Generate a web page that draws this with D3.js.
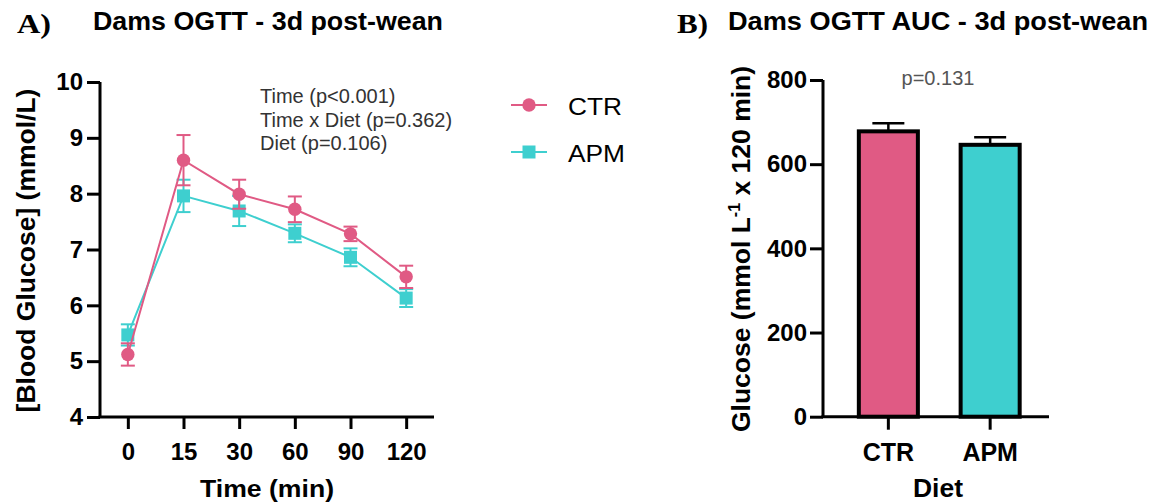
<!DOCTYPE html>
<html>
<head>
<meta charset="utf-8">
<script src="https://cdn.jsdelivr.net/npm/d3@7"></script>
<style>
  html, body { margin: 0; padding: 0; background: #fff; }
  svg { display: block; font-family: "Liberation Sans", Arial, Helvetica, sans-serif; }
</style>
</head>
<body>
<svg id="chart" width="1154" height="504"></svg>
<script>
// panel A: OGTT time course
const times = ["0", "15", "30", "60", "90", "120"];
const ctrMean = [5.12, 8.6, 7.99, 7.72, 7.28, 6.51];
const ctrSem = [0.2, 0.45, 0.26, 0.23, 0.13, 0.2];
const apmMean = [5.47, 7.96, 7.69, 7.29, 6.86, 6.13];
const apmSem = [0.19, 0.29, 0.27, 0.16, 0.16, 0.16];
const yTicksA = [4, 5, 6, 7, 8, 9, 10];
const statsLines = ["Time (p<0.001)", "Time x Diet (p=0.362)", "Diet (p=0.106)"];

// panel B: AUC
const diets = ["CTR", "APM"];
const aucMean = [678, 646];
const aucSem = [19, 18];
const yTicksB = [0, 200, 400, 600, 800];

const pink = "#e05a84";
const teal = "#3ecfcf";

const svg = d3.select("#chart");

// ---------- panel A ----------
const xA = d3.scalePoint().domain(times).range([100, 434]).padding(0.5);
const yA = d3.scaleLinear().domain([4, 10]).range([417, 82]);

const gA = svg.append("g");

gA.append("text")
  .attr("x", 17).attr("y", 33)
  .attr("font-family", "'Liberation Serif', 'Times New Roman', serif")
  .attr("font-weight", "bold").attr("font-size", 28)
  .attr("textLength", 34).attr("lengthAdjust", "spacingAndGlyphs")
  .text("A)");

gA.append("text")
  .attr("x", 93).attr("y", 30)
  .attr("font-weight", "bold").attr("font-size", 25)
  .attr("textLength", 350).attr("lengthAdjust", "spacingAndGlyphs")
  .text("Dams OGTT - 3d post-wean");

// y axis
gA.append("g")
  .attr("transform", "translate(100,0)")
  .call(d3.axisLeft(yA).tickValues(yTicksA).tickFormat(d3.format("d")).tickSize(13).tickPadding(4))
  .call((g) => g.select(".domain").attr("stroke-width", 3).attr("d", `M0,${yA(10)}V${yA(4)}`))
  .call((g) => g.selectAll(".tick line").attr("stroke-width", 3))
  .call((g) => g.selectAll(".tick text")
    .attr("font-size", 24).attr("font-weight", "bold").attr("fill", "#000")
    .attr("font-family", "'Liberation Sans', Arial, sans-serif"));

// x axis
gA.append("g")
  .attr("transform", `translate(0,${yA(4)})`)
  .call(d3.axisBottom(xA).tickSize(12).tickPadding(14))
  .call((g) => g.select(".domain").attr("stroke-width", 3).attr("d", `M98.5,0H434`))
  .call((g) => g.selectAll(".tick line").attr("stroke-width", 3))
  .call((g) => g.selectAll(".tick text")
    .attr("font-size", 24).attr("font-weight", "bold").attr("fill", "#000")
    .attr("font-family", "'Liberation Sans', Arial, sans-serif"));

gA.append("text")
  .attr("x", 267).attr("y", 497)
  .attr("text-anchor", "middle")
  .attr("font-weight", "bold").attr("font-size", 24)
  .attr("textLength", 134).attr("lengthAdjust", "spacingAndGlyphs")
  .text("Time (min)");

gA.append("text")
  .attr("transform", `translate(35,${250.5}) rotate(-90)`)
  .attr("text-anchor", "middle")
  .attr("font-weight", "bold").attr("font-size", 26.5)
  .text("[Blood Glucose] (mmol/L)");

// series
const series = [
  { name: "APM", mean: apmMean, sem: apmSem, color: teal, shape: "square" },
  { name: "CTR", mean: ctrMean, sem: ctrSem, color: pink, shape: "circle" },
];

const line = d3.line()
  .x((d) => xA(d.t))
  .y((d) => yA(d.v));

series.forEach((s) => {
  const pts = times.map((t, i) => ({ t, v: s.mean[i], e: s.sem[i] }));
  const g = gA.append("g").attr("class", "series-" + s.name);

  g.append("path")
    .datum(pts)
    .attr("fill", "none")
    .attr("stroke", s.color)
    .attr("stroke-width", 2)
    .attr("d", line);

  const eb = g.selectAll(".err").data(pts).join("g").attr("class", "err")
    .attr("stroke", s.color).attr("stroke-width", 2);
  eb.append("line")
    .attr("x1", (d) => xA(d.t)).attr("x2", (d) => xA(d.t))
    .attr("y1", (d) => yA(d.v - d.e)).attr("y2", (d) => yA(d.v + d.e));
  eb.append("line")
    .attr("x1", (d) => xA(d.t) - 7).attr("x2", (d) => xA(d.t) + 7)
    .attr("y1", (d) => yA(d.v + d.e)).attr("y2", (d) => yA(d.v + d.e));
  eb.append("line")
    .attr("x1", (d) => xA(d.t) - 7).attr("x2", (d) => xA(d.t) + 7)
    .attr("y1", (d) => yA(d.v - d.e)).attr("y2", (d) => yA(d.v - d.e));

  if (s.shape === "circle") {
    g.selectAll(".pt").data(pts).join("circle").attr("class", "pt")
      .attr("cx", (d) => xA(d.t)).attr("cy", (d) => yA(d.v))
      .attr("r", 6.7).attr("fill", s.color);
  } else {
    g.selectAll(".pt").data(pts).join("rect").attr("class", "pt")
      .attr("x", (d) => xA(d.t) - 6.5).attr("y", (d) => yA(d.v) - 6.5)
      .attr("width", 13).attr("height", 13).attr("fill", s.color);
  }
});

// stats annotation
gA.append("g")
  .selectAll("text")
  .data(statsLines)
  .join("text")
  .attr("x", 260)
  .attr("y", (d, i) => 103 + i * 23.5)
  .attr("font-size", 20)
  .attr("fill", "#333")
  .text((d) => d);

// legend
const legend = gA.append("g");
const legendItems = [
  { name: "CTR", color: pink, shape: "circle", y: 105, w: 54 },
  { name: "APM", color: teal, shape: "square", y: 152, w: 57 },
];
legendItems.forEach((it) => {
  legend.append("line")
    .attr("x1", 511).attr("x2", 547).attr("y1", it.y).attr("y2", it.y)
    .attr("stroke", it.color).attr("stroke-width", 2);
  if (it.shape === "circle") {
    legend.append("circle").attr("cx", 529).attr("cy", it.y).attr("r", 6.7).attr("fill", it.color);
  } else {
    legend.append("rect").attr("x", 522.5).attr("y", it.y - 6.5)
      .attr("width", 13).attr("height", 13).attr("fill", it.color);
  }
  legend.append("text")
    .attr("x", 568).attr("y", it.y + 10)
    .attr("font-size", 24)
    .attr("textLength", it.w).attr("lengthAdjust", "spacingAndGlyphs")
    .text(it.name);
});

// ---------- panel B ----------
const xB = d3.scaleBand().domain(diets).range([823, 1049]).paddingInner(0.42).paddingOuter(0.32).align(0.55);
const yB = d3.scaleLinear().domain([0, 800]).range([416.7, 80]);

const gB = svg.append("g");

gB.append("text")
  .attr("x", 677).attr("y", 33)
  .attr("font-family", "'Liberation Serif', 'Times New Roman', serif")
  .attr("font-weight", "bold").attr("font-size", 28)
  .attr("textLength", 31).attr("lengthAdjust", "spacingAndGlyphs")
  .text("B)");

gB.append("text")
  .attr("x", 728).attr("y", 30)
  .attr("font-weight", "bold").attr("font-size", 25)
  .attr("textLength", 420).attr("lengthAdjust", "spacingAndGlyphs")
  .text("Dams OGTT AUC - 3d post-wean");

// bars
const bars = diets.map((d, i) => ({ d, v: aucMean[i], e: aucSem[i], c: i === 0 ? pink : teal }));

gB.selectAll(".err").data(bars).join("g").attr("class", "err")
  .attr("stroke", "#000").attr("stroke-width", 2.5)
  .call((g) => g.append("line")
    .attr("x1", (d) => xB(d.d) + xB.bandwidth() / 2).attr("x2", (d) => xB(d.d) + xB.bandwidth() / 2)
    .attr("y1", (d) => yB(d.v)).attr("y2", (d) => yB(d.v + d.e)))
  .call((g) => g.append("line")
    .attr("x1", (d) => xB(d.d) + xB.bandwidth() / 2 - 16).attr("x2", (d) => xB(d.d) + xB.bandwidth() / 2 + 16)
    .attr("y1", (d) => yB(d.v + d.e)).attr("y2", (d) => yB(d.v + d.e)));

gB.selectAll(".bar").data(bars).join("rect").attr("class", "bar")
  .attr("x", (d) => xB(d.d))
  .attr("y", (d) => yB(d.v))
  .attr("width", xB.bandwidth())
  .attr("height", (d) => yB(0) - yB(d.v))
  .attr("fill", (d) => d.c)
  .attr("stroke", "#000")
  .attr("stroke-width", 4);

// axes
gB.append("g")
  .attr("transform", "translate(823,0)")
  .call(d3.axisLeft(yB).tickValues(yTicksB).tickSize(13).tickPadding(3))
  .call((g) => g.select(".domain").attr("stroke-width", 3).attr("d", `M0,${yB(800)}V${yB(0)}`))
  .call((g) => g.selectAll(".tick line").attr("stroke-width", 3))
  .call((g) => g.selectAll(".tick text")
    .attr("font-size", 24).attr("font-weight", "bold").attr("fill", "#000")
    .attr("font-family", "'Liberation Sans', Arial, sans-serif"));

gB.append("g")
  .attr("transform", `translate(0,${yB(0)})`)
  .call(d3.axisBottom(xB).tickSize(13).tickPadding(14))
  .call((g) => g.select(".domain").attr("stroke-width", 3).attr("d", "M821.5,0H1049"))
  .call((g) => g.selectAll(".tick line").attr("stroke-width", 3))
  .call((g) => g.selectAll(".tick text")
    .attr("font-size", 25).attr("font-weight", "bold").attr("fill", "#000")
    .attr("font-family", "'Liberation Sans', Arial, sans-serif"));

gB.append("text")
  .attr("x", 938).attr("y", 497)
  .attr("text-anchor", "middle")
  .attr("font-weight", "bold").attr("font-size", 25)
  .attr("textLength", 50).attr("lengthAdjust", "spacingAndGlyphs")
  .text("Diet");

const yTitleB = gB.append("text")
  .attr("transform", `translate(750,249) rotate(-90)`)
  .attr("text-anchor", "middle")
  .attr("font-weight", "bold").attr("font-size", 26.5);
yTitleB.append("tspan").text("Glucose (mmol L");
yTitleB.append("tspan").attr("font-size", 16).attr("dy", -10).text("-1");
yTitleB.append("tspan").attr("dy", 10).text(" x 120 min)");

gB.append("text")
  .attr("x", 938).attr("y", 85)
  .attr("text-anchor", "middle")
  .attr("font-size", 20)
  .attr("fill", "#555")
  .text("p=0.131");
</script>
</body>
</html>
